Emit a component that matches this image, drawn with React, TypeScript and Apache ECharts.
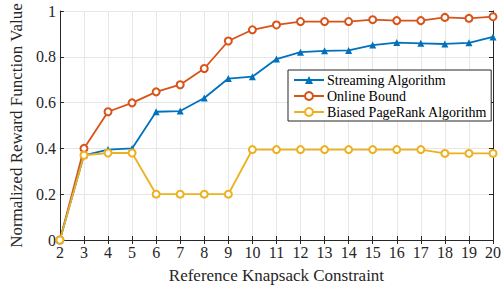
import React, { useEffect, useRef } from "react";
import * as echarts from "echarts";

const categories = [2, 3, 4, 5, 6, 7, 8, 9, 10, 11, 12, 13, 14, 15, 16, 17, 18, 19, 20];
const streaming = [0, 0.37, 0.395, 0.4, 0.56, 0.563, 0.62, 0.705, 0.713, 0.79, 0.82, 0.826, 0.828, 0.851, 0.862, 0.859, 0.856, 0.861, 0.887];
const onlineBound = [0, 0.4, 0.56, 0.599, 0.647, 0.678, 0.749, 0.869, 0.918, 0.939, 0.954, 0.954, 0.954, 0.962, 0.958, 0.958, 0.972, 0.968, 0.975];
const biasedPageRank = [0, 0.37, 0.38, 0.38, 0.2, 0.2, 0.2, 0.2, 0.395, 0.395, 0.395, 0.395, 0.395, 0.395, 0.395, 0.395, 0.378, 0.378, 0.378];
const yTicks = [0, 0.2, 0.4, 0.6, 0.8, 1];

const FONT = "Liberation Serif";
const AXIS = "#262626";

export default function App() {
  const ref = useRef<HTMLDivElement>(null);
  useEffect(() => {
    const chart = echarts.init(ref.current!, null, { renderer: "svg" });
    const mk = (d: number[]) => categories.map((c, i) => [c, d[i]]);
    const xBase = {
      type: "value" as const,
      min: 2,
      max: 20,
      interval: 1,
      axisLine: { show: true, lineStyle: { color: AXIS, width: 1 } },
      axisTick: { show: true, inside: true, length: 4, lineStyle: { color: AXIS } },
      splitLine: { show: false },
    };
    const yBase = {
      type: "value" as const,
      min: 0,
      max: 1,
      interval: 0.2,
      axisLine: { show: true, lineStyle: { color: AXIS, width: 1 } },
      axisTick: { show: true, inside: true, length: 4, lineStyle: { color: AXIS } },
      splitLine: { show: false },
    };
    chart.setOption({
      animation: false,
      backgroundColor: "#ffffff",
      textStyle: { fontFamily: FONT },
      grid: { left: 49, right: 8, top: 11, bottom: 38, containLabel: false },
      legend: {
        orient: "vertical",
        left: 288,
        top: 70,
        width: 200,
        padding: [3, 4, 2, 5],
        itemGap: 2,
        itemWidth: 30,
        itemHeight: 10,
        backgroundColor: "#ffffff",
        borderColor: AXIS,
        borderWidth: 1,
        borderRadius: 0,
        textStyle: { fontFamily: FONT, fontSize: 14, color: "#000", padding: [0, 0, 0, -2] },
        data: ["Streaming Algorithm", "Online Bound", "Biased PageRank Algorithm"],
      },
      xAxis: [
        {
          ...xBase,
          position: "bottom",
          name: "Reference Knapsack Constraint",
          nameLocation: "middle",
          nameGap: 27,
          nameTextStyle: { fontFamily: FONT, fontSize: 17, color: AXIS },
          axisLabel: { fontFamily: FONT, fontSize: 16, color: AXIS, margin: 4 },
          splitLine: { show: true, lineStyle: { color: "#e6e6e6", width: 1 } },
        },
        { ...xBase, position: "top", axisLabel: { show: false } },
      ],
      yAxis: [
        {
          ...yBase,
          position: "left",
          name: "Normalized Reward Function Value",
          nameLocation: "middle",
          nameGap: 33,
          nameTextStyle: { fontFamily: FONT, fontSize: 17, color: AXIS },
          axisLabel: {
            fontFamily: FONT,
            fontSize: 16,
            color: AXIS,
            margin: 4,
            formatter: (v: number) => {
              const t = yTicks.find((x) => Math.abs(x - v) < 1e-6);
              return t === undefined ? "" : String(t);
            },
          },
          splitLine: { show: true, lineStyle: { color: "#e6e6e6", width: 1 } },
        },
        { ...yBase, position: "right", axisLabel: { show: false } },
      ],
      series: [
        {
          name: "Streaming Algorithm",
          type: "line",
          data: mk(streaming),
          color: "#0072BD",
          lineStyle: { width: 1.8 },
          symbol: "triangle",
          symbolSize: 7,
          itemStyle: { color: "#0072BD" },
          z: 3,
        },
        {
          name: "Online Bound",
          type: "line",
          data: mk(onlineBound),
          color: "#D95319",
          lineStyle: { width: 1.8 },
          symbol: "emptyCircle",
          symbolSize: 7,
          itemStyle: { color: "#D95319", borderWidth: 1.5 },
          z: 2,
        },
        {
          name: "Biased PageRank Algorithm",
          type: "line",
          data: mk(biasedPageRank),
          color: "#EDB120",
          lineStyle: { width: 1.8 },
          symbol: "emptyCircle",
          symbolSize: 7,
          itemStyle: { color: "#EDB120", borderWidth: 1.5 },
          z: 4,
        },
      ],
    });
    return () => chart.dispose();
  }, []);
  return <div ref={ref} style={{ width: 504, height: 289, position: "absolute", left: 0, top: 0 }} />;
}
